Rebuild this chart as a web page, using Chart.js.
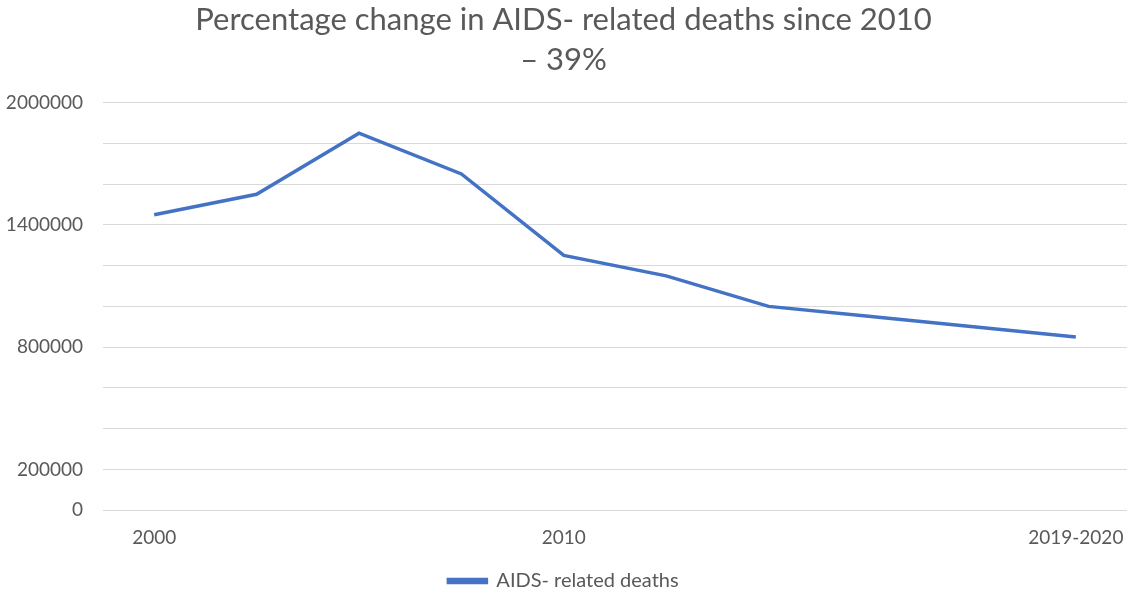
<!DOCTYPE html>
<html>
<head>
<meta charset="utf-8">
<script src="https://cdn.jsdelivr.net/npm/chart.js@4"></script>
<style>
    html, body { margin: 0; padding: 0; background: #fff; }
    #wrap { width: 1129px; height: 594px; position: relative; }
</style>
</head>
<body>
<div id="wrap"><canvas id="deaths-chart"></canvas></div>
<script>
// chart values
const categories = ['2000', '', '', '', '2010', '', '', '', '', '2019-2020'];
const deaths = [1450000, 1550000, 1850000, 1650000, 1250000, 1150000, 1000000, 950000, 900000, 850000];
const yTickLabels = [0, 200000, 800000, 1400000, 2000000];
const seriesName = 'AIDS- related deaths';
const titleLines = ['Percentage change in AIDS- related deaths since 2010', '\u2013 39%'];

document.addEventListener('DOMContentLoaded', () => {
    const ctx = document.getElementById('deaths-chart').getContext('2d');
    const grey = '#595959';
    const fontFamily = 'Lato, "Open Sans", sans-serif';

    new Chart(ctx, {
        type: 'line',
        data: {
            labels: categories,
            datasets: [
                {
                    label: seriesName,
                    data: deaths,
                    borderColor: '#4472C4',
                    backgroundColor: '#4472C4',
                    borderWidth: 3.5,
                    pointRadius: 0,
                    tension: 0,
                },
            ],
        },
        options: {
            responsive: true,
            maintainAspectRatio: false,
            animation: false,
            layout: { padding: { left: 0, right: 2, top: 0, bottom: -7 } },
            plugins: {
                title: {
                    display: true,
                    text: titleLines,
                    color: grey,
                    font: { family: fontFamily, size: 31, weight: 'normal', lineHeight: 1.3 },
                    padding: { top: 0, bottom: 22 },
                },
                legend: {
                    display: true,
                    position: 'bottom',
                    labels: {
                        color: grey,
                        font: { family: fontFamily, size: 20 },
                        boxWidth: 38,
                        boxHeight: 3,
                        padding: 6,
                    },
                },
                tooltip: { enabled: false },
            },
            scales: {
                x: {
                    offset: true,
                    grid: { display: false, drawTicks: false },
                    border: { display: false },
                    ticks: {
                        color: grey,
                        font: { family: fontFamily, size: 19 },
                        autoSkip: false,
                        maxRotation: 0,
                        padding: 16,
                    },
                    afterFit: (scale) => {
                        scale.paddingLeft = 0;
                        scale.paddingRight = 0;
                    },
                },
                y: {
                    min: 0,
                    max: 2000000,
                    grid: { color: '#d9d9d9', lineWidth: 1, drawTicks: false },
                    border: { display: false },
                    ticks: {
                        stepSize: 200000,
                        color: grey,
                        font: { family: fontFamily, size: 19 },
                        padding: 20,
                        callback: (value) => (yTickLabels.includes(value) ? String(value) : ''),
                    },
                    // fixed axis box so the plot starts where the original does
                    afterFit: (scale) => {
                        scale.width = 103;
                    },
                },
            },
        },
    });
});
</script>
</body>
</html>
